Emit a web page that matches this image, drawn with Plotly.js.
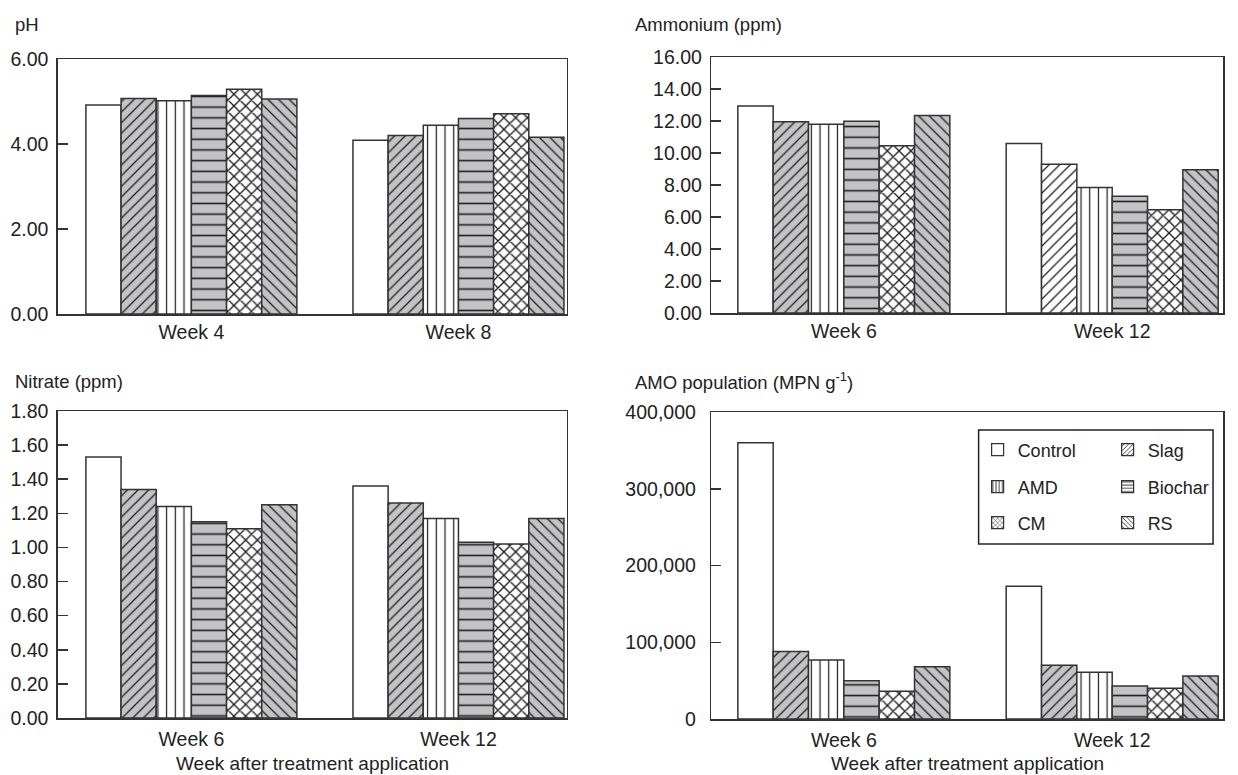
<!DOCTYPE html>
<html><head><meta charset="utf-8">
<script src="https://cdn.plot.ly/plotly-3.0.1.min.js"></script>
<style>html,body{margin:0;padding:0;background:#fff}#chart{width:1238px;height:775px}</style>
</head><body><div id="chart"></div>
<script>
// ---------- data ----------
const treatments = ['Control', 'Slag', 'AMD', 'Biochar', 'CM', 'RS'];
const phWeeks = ['Week 4', 'Week 8'];
const labWeeks = ['Week 6', 'Week 12'];
const phWeek4 = [4.92, 5.07, 5.02, 5.14, 5.29, 5.06];
const phWeek8 = [4.09, 4.20, 4.44, 4.60, 4.71, 4.16];
const ammWeek6 = [12.93, 11.95, 11.80, 11.98, 10.45, 12.35];
const ammWeek12 = [10.60, 9.30, 7.85, 7.30, 6.45, 8.95];
const nitWeek6 = [1.53, 1.34, 1.24, 1.15, 1.11, 1.25];
const nitWeek12 = [1.36, 1.26, 1.17, 1.03, 1.02, 1.17];
const amoWeek6 = [360000, 88000, 77000, 50000, 36000, 68000];
const amoWeek12 = [173000, 70000, 61000, 43000, 40000, 56000];
const panelTitles = ['pH', 'Ammonium (ppm)', 'Nitrate (ppm)', 'AMO population (MPN g<sup>-1</sup>)'];
const xTitle = 'Week after treatment application';

// ---------- styling ----------
const W = 1238, H = 775;
const px = v => v / W;
const py = v => 1 - v / H;
const GRAY = '#c3c3c5', WHITE = '#ffffff', INK = '#1e1e1e', LINE = '#333333';
const FONT = 'Liberation Sans, Arial, sans-serif';
const patterns = {
  Control: {shape: '', size: 8, solidity: 0.2, gray: false},
  Slag:    {shape: '/', size: 7.5, solidity: 0.17, gray: true},
  AMD:     {shape: '|', size: 8.7, solidity: 0.14, gray: false},
  Biochar: {shape: '-', size: 10.7, solidity: 0.15, gray: true},
  CM:      {shape: 'x', size: 8.3, solidity: 0.3, gray: false},
  RS:      {shape: '\\', size: 7.5, solidity: 0.17, gray: true}
};
// bar drawn white despite treatment default (Ammonium, Week 12, Slag)
const whiteOverrides = [{panel: 1, treatment: 'Slag', week: 1}];

const panels = [
  {cats: phWeeks, a: phWeek4, b: phWeek8, xa: 'x', ya: 'y'},
  {cats: labWeeks, a: ammWeek6, b: ammWeek12, xa: 'x2', ya: 'y2'},
  {cats: labWeeks, a: nitWeek6, b: nitWeek12, xa: 'x3', ya: 'y3'},
  {cats: labWeeks, a: amoWeek6, b: amoWeek12, xa: 'x4', ya: 'y4'}
];

const traces = [];
panels.forEach((p, pi) => {
  treatments.forEach((t, ti) => {
    const st = patterns[t];
    const cols = [0, 1].map(w => {
      const white = whiteOverrides.some(o => o.panel === pi && o.treatment === t && o.week === w);
      return (st.gray && !white) ? GRAY : WHITE;
    });
    const bg = cols[0] === cols[1] ? cols[0] : cols;
    traces.push({
      type: 'bar', x: p.cats, y: [p.a[ti], p.b[ti]], name: t,
      xaxis: p.xa, yaxis: p.ya, offsetgroup: t, showlegend: false,
      marker: {
        color: cols[0], line: {color: LINE, width: 1.5},
        pattern: {shape: st.shape, size: st.size, solidity: st.solidity,
                  fgcolor: INK, fgopacity: 1, bgcolor: bg}
      },
      hoverinfo: 'name+y'
    });
  });
});
// legend entries (two per row, three rows)
const legendIds = ['legend', 'legend', 'legend2', 'legend2', 'legend3', 'legend3'];
treatments.forEach((t, ti) => {
  const st = patterns[t];
  traces.push({
    type: 'bar', x: labWeeks, y: [null, null], name: t,
    xaxis: 'x4', yaxis: 'y4', offsetgroup: t, showlegend: true, legend: legendIds[ti],
    marker: {color: WHITE, line: {color: LINE, width: 1.2},
      pattern: {shape: st.shape, size: 4, solidity: 0.25, fgcolor: INK, fgopacity: 1, bgcolor: WHITE}},
    hoverinfo: 'skip'
  });
});

const tickFont = {family: FONT, size: 19.5, color: '#222'};
function yAx(dom, range, dtick, fmt, anchor, standoff) {
  return {domain: dom, range: range, dtick: dtick, tick0: 0, tickformat: fmt, anchor: anchor,
    ticks: 'inside', ticklen: 10, tickwidth: 1.5, tickcolor: LINE,
    showline: true, mirror: true, linecolor: LINE, linewidth: 1.5,
    showgrid: false, zeroline: false, tickfont: tickFont, ticklabelstandoff: standoff, fixedrange: true};
}
function xAx(dom, range, anchor, standoff) {
  return {domain: dom, range: range, type: 'category', anchor: anchor, ticks: '',
    showline: true, mirror: true, linecolor: LINE, linewidth: 1.5,
    showgrid: false, zeroline: false, tickfont: tickFont, ticklabelstandoff: standoff, fixedrange: true};
}
const legBase = {orientation: 'h', xanchor: 'left', yanchor: 'middle', entrywidth: 85, entrywidthmode: 'pixels',
  font: {family: FONT, size: 18, color: '#222'}, bgcolor: 'rgba(0,0,0,0)', borderwidth: 0,
  itemclick: false, itemdoubleclick: false};

const layout = {
  width: W, height: H, margin: {l: 0, r: 0, t: 0, b: 0},
  paper_bgcolor: '#fff', plot_bgcolor: '#fff',
  barmode: 'group', bargap: 0.21, bargroupgap: 0,
  font: {family: FONT, color: '#222'},
  xaxis: xAx([px(58), px(568)], [-0.5, 1.405], 'y', 0),
  yaxis: yAx([py(314), py(59)], [0, 6], 2, '.2f', 'x', 4),
  xaxis2: xAx([px(713), px(1226)], [-0.494, 1.413], 'y2', 0),
  yaxis2: yAx([py(313), py(57)], [0, 16], 2, '.2f', 'x2', 4),
  xaxis3: xAx([px(58), px(568)], [-0.5, 1.405], 'y3', 3),
  yaxis3: yAx([py(718), py(411)], [0, 1.8], 0.2, '.2f', 'x3', 4),
  xaxis4: xAx([px(713), px(1226)], [-0.494, 1.413], 'y4', 3),
  yaxis4: yAx([py(719), py(412)], [0, 400000], 100000, ',d', 'x4', 10),
  legend: Object.assign({x: px(980), y: py(450)}, legBase),
  legend2: Object.assign({x: px(980), y: py(487)}, legBase),
  legend3: Object.assign({x: px(980), y: py(523)}, legBase),
  shapes: [{type: 'rect', xref: 'paper', yref: 'paper', x0: px(981), x1: px(1216), y0: py(544), y1: py(430),
    line: {color: '#222', width: 1.5}, fillcolor: 'rgba(0,0,0,0)', layer: 'above'}],
  annotations: [
    {text: panelTitles[0], x: px(13), y: py(25)},
    {text: panelTitles[1], x: px(635), y: py(25)},
    {text: panelTitles[2], x: px(13), y: py(381)},
    {text: panelTitles[3], x: px(635), y: py(381)},
  ].map(a => Object.assign(a, {xref: 'paper', yref: 'paper', xanchor: 'left', yanchor: 'middle',
      showarrow: false, font: {family: FONT, size: 18.5, color: '#222'}})).concat([
    {text: xTitle, x: px(313), y: py(763)},
    {text: xTitle, x: px(969.5), y: py(763)}
  ].map(a => Object.assign(a, {xref: 'paper', yref: 'paper', xanchor: 'center', yanchor: 'middle',
      showarrow: false, font: {family: FONT, size: 19, color: '#222'}})))
};

Plotly.newPlot('chart', traces, layout, {displayModeBar: false, staticPlot: true});
</script>
</body></html>
